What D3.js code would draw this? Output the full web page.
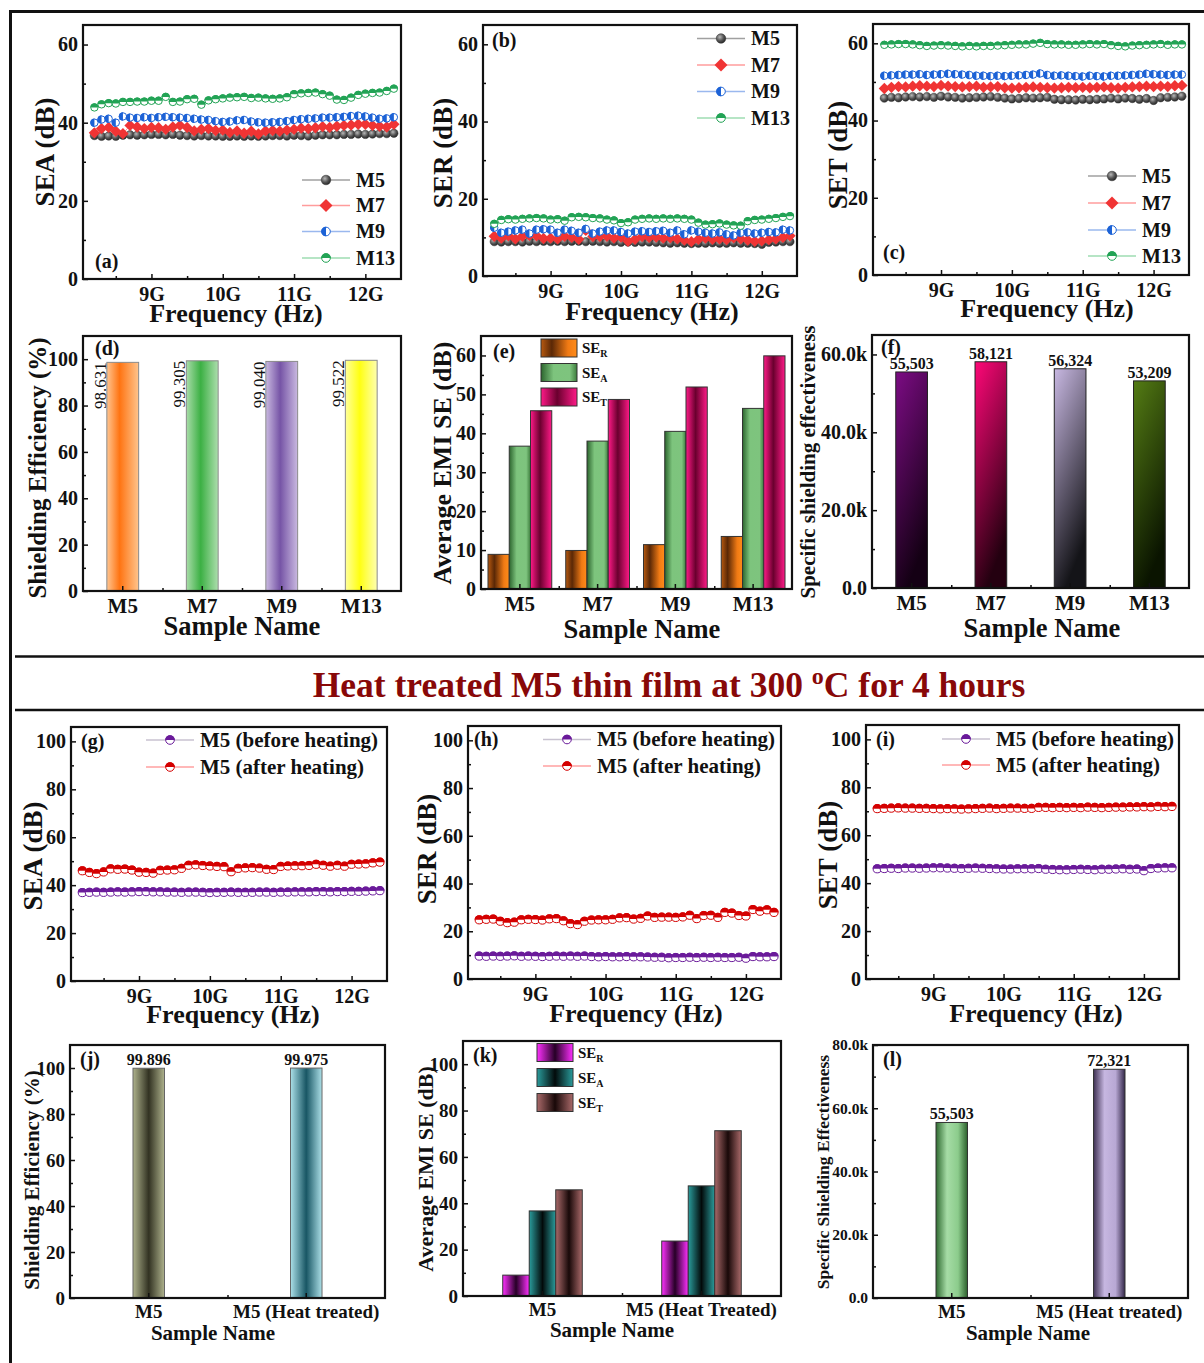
<!DOCTYPE html>
<html>
<head>
<meta charset="utf-8">
<script src="https://cdn.jsdelivr.net/npm/d3@7/dist/d3.min.js"></script>
<style>
  body { margin: 0; background: #fff; }
  svg { display: block; font-family: "Liberation Serif", "Times New Roman", serif; font-weight: bold; }
</style>
</head>
<body>
<svg id="fig" width="1204" height="1363"></svg>
<script>
// sweep frequencies (GHz)
const freqGHz = [8.2,8.3,8.4,8.5,8.6,8.7,8.8,8.9, 9.0,9.1,9.2,9.3,9.4,9.5,9.6,9.7,9.8,9.9,
  10.0,10.1,10.2,10.3,10.4,10.5,10.6,10.7,10.8,10.9, 11.0,11.1,11.2,11.3,11.4,11.5,11.6,11.7,11.8,11.9,
  12.0,12.1,12.2,12.3,12.4]
const freqTicks = [9, 10, 11, 12]
const freqTickLabels = ['9G', '10G', '11G', '12G']
const freqMinor = [8.5, 9.5, 10.5, 11.5]

// (a) SEA
const seaM5 = [36.7,36.5,36.6,36.5,36.8,36.9,36.8,36.9,37.0,37.0, 36.9,37.0,36.8,36.7,36.6,36.7,36.6,36.6,36.5,36.5,
  36.6,36.5,36.6,36.5,36.6,36.7,36.7,36.6,36.8,36.7, 36.6,36.8,36.9,36.9,36.9,37.0,37.0,37.1,37.0,37.1, 37.2,37.2,37.3]
const seaM7 = [37.4,38.5,38.8,37.8,37.2,39.3,38.9,38.5,38.8,38.7, 38.3,38.9,39.3,38.8,37.9,38.3,38.5,38.0,38.1,37.5,
  37.9,37.3,37.8,37.1,37.9,38.0,37.8,38.1,38.3,38.6, 38.5,38.7,39.0,38.8,39.1,39.3,39.4,39.6,39.6,39.3, 39.1,38.9,39.6]
const seaM9 = [40.0,40.8,41.0,40.0,41.6,41.3,41.2,41.4,41.2,41.4, 41.5,41.4,41.3,41.2,41.0,40.8,40.7,40.4,40.2,40.3,
  40.6,40.7,40.3,40.1,40.0,40.1,40.2,40.4,40.7,40.9, 41.0,41.1,41.3,41.3,41.4,41.5,41.7,41.8,41.6,41.3, 41.0,41.1,41.4]
const seaM13 = [43.9,44.7,45.0,44.9,45.3,45.3,45.4,45.4,45.6,45.6, 46.6,45.3,45.4,46.0,46.1,44.6,45.7,46.0,46.2,46.4,
  46.5,46.6,46.3,46.4,46.2,46.1,46.2,46.5,47.3,47.5, 47.6,47.7,47.3,46.9,45.9,45.8,46.4,47.1,47.4,47.6, 47.7,48.1,48.7]

// (b) SER
const serM5 = [8.9,8.8,8.9,8.9,8.8,9.0,8.9,9.0,8.9,9.0, 8.9,9.0,9.0,8.9,9.0,8.9,8.8,8.9,8.7,8.8,
  8.7,8.8,8.8,8.7,8.6,8.5,8.6,8.5,8.4,8.5, 8.5,8.6,8.5,8.5,8.6,8.5,8.5,8.4,8.2,8.7, 8.8,8.9,8.9]
const serM7 = [10.3,9.8,10.4,9.6,10.3,10.5,10.4,9.7,9.8,9.6, 10.3,10.0,9.5,11.8,10.2,10.2,10.3,9.8,10.1,9.0,
  9.5,10.2,10.0,10.1,9.8,9.9,9.6,9.3,8.9,9.5, 9.8,9.5,9.6,9.4,9.9,9.6,9.3,9.0,9.1,9.4, 9.6,10.0,10.4]
const serM9 = [12.5,11.2,11.5,11.8,12.0,11.0,12.0,12.1,12.0,11.2, 12.0,11.7,11.2,12.2,11.0,11.5,11.8,11.8,11.4,11.0,
  11.5,11.6,11.4,11.6,11.7,11.2,11.8,10.8,11.8,11.5, 11.2,11.0,11.3,10.8,10.5,11.2,11.3,11.0,11.2,11.4, 11.3,12.0,11.8]
const serM13 = [13.5,14.5,14.7,14.6,14.8,14.9,15.0,14.9,14.6,14.7, 14.3,15.2,15.3,15.2,15.0,14.9,14.6,14.4,13.7,13.9,
  14.6,14.8,14.9,14.8,14.9,14.8,14.9,14.8,14.6,13.8, 13.3,13.4,13.6,13.3,13.1,13.0,14.2,14.5,14.6,14.8, 15.0,15.3,15.5]

// (c) SET
const setM5 = [45.8,46.0,45.9,46.1,46.2,46.1,46.2,46.0,46.3,46.1, 46.0,45.8,45.9,46.0,46.1,46.2,46.0,45.8,45.6,45.7,
  45.9,45.8,45.9,46.0,45.5,45.4,45.4,45.3,45.5,45.4, 45.5,45.6,45.8,45.6,45.8,45.7,45.5,45.7,45.2,45.9, 46.0,46.1,46.3]
const setM7 = [48.3,48.6,48.8,48.7,48.9,49.0,48.9,48.8,49.1,48.9, 48.8,48.7,48.8,48.9,48.6,48.7,48.8,48.5,48.4,48.5,
  48.6,48.7,48.6,48.5,48.4,48.5,48.6,48.5,48.6,48.5, 48.6,48.7,48.5,48.4,48.6,48.7,48.8,48.9,48.8,48.9, 48.8,49.0,49.1]
const setM9 = [51.6,51.7,51.8,51.9,51.9,52.0,51.8,51.9,52.0,52.1, 52.0,51.9,51.8,51.6,51.6,51.5,51.6,51.5,51.6,51.7,
  51.8,51.9,52.2,51.8,51.6,51.7,51.6,51.5,51.4,51.6, 51.5,51.4,51.6,51.6,51.7,51.8,51.9,52.1,52.0,51.9, 51.8,51.9,51.9]
const setM13 = [59.6,59.7,59.8,59.8,59.7,59.5,59.3,59.4,59.5,59.4, 59.3,59.2,59.3,59.2,59.3,59.3,59.4,59.5,59.6,59.7,
  59.7,59.9,60.1,59.8,59.7,59.7,59.6,59.6,59.7,59.8, 59.7,59.8,59.5,59.3,59.2,59.4,59.5,59.6,59.7,59.8, 59.6,59.7,59.7]

// (g)-(i) M5 before / after heating
const seaBefore = [36.9,37.0,37.1,37.0,37.1,37.2,37.1,37.2,37.3,37.3, 37.2,37.2,37.1,37.1,37.0,37.1,37.1,37.0,36.9,37.0,
  37.0,37.1,37.0,37.0,37.0,37.1,37.1,37.0,37.1,37.1, 37.2,37.2,37.2,37.3,37.3,37.2,37.3,37.3,37.4,37.4, 37.5,37.6,37.7]
const seaAfter = [46.0,45.3,44.8,45.5,46.8,46.6,46.7,46.3,45.4,45.3, 45.0,46.2,46.3,46.4,47.0,48.3,48.5,48.2,48.0,47.8,
  47.7,45.6,47.0,47.2,47.3,47.1,46.6,46.5,47.8,48.0, 48.1,48.1,48.2,48.7,48.3,47.9,48.3,47.9,48.7,48.8, 48.9,49.3,49.6]
const serBefore = [9.6,9.5,9.6,9.5,9.6,9.7,9.5,9.6,9.5,9.4, 9.5,9.6,9.5,9.6,9.5,9.6,9.4,9.3,9.4,9.3,
  9.3,9.4,9.3,9.3,9.2,9.1,9.1,8.9,9.0,9.0, 9.1,9.0,9.1,9.0,9.1,9.0,9.0,9.1,8.7,9.4, 9.3,9.3,9.4]
const serAfter = [24.8,25.0,25.1,24.2,23.6,23.8,24.8,25.0,24.9,24.7, 25.2,25.3,24.4,23.2,22.8,24.2,24.7,24.8,24.8,25.0,
  25.6,25.7,25.1,25.4,26.4,25.8,25.9,25.9,25.8,26.0, 26.7,25.3,26.6,26.7,25.8,27.9,27.6,26.6,26.4,29.1, 28.4,29.0,27.9]
const setBefore = [46.0,46.1,46.2,46.1,46.3,46.3,46.2,46.3,46.4,46.4, 46.3,46.2,46.1,46.2,46.3,46.2,46.1,46.0,45.9,45.9,
  46.0,46.0,46.0,46.1,45.8,45.7,45.6,45.6,45.7,45.8, 45.7,45.6,45.8,45.8,45.9,46.0,45.8,45.9,45.2,46.1, 46.3,46.4,46.4]
const setAfter = [71.1,71.2,71.3,71.4,71.3,71.3,71.2,71.2,71.1,71.0, 71.1,71.0,70.9,71.0,71.1,71.2,71.3,71.1,71.2,71.3,
  71.3,71.2,71.2,71.6,71.6,71.5,71.6,71.5,71.6,71.5, 71.7,71.6,71.5,71.6,71.7,71.7,71.8,71.8,71.9,71.8, 72.0,71.9,72.0]

// bar panels
const samples = ['M5', 'M7', 'M9', 'M13']
const shieldEff = [98.631, 99.305, 99.040, 99.522]
const avgSER = [8.9, 9.9, 11.4, 13.5]
const avgSEA = [36.7, 38.0, 40.5, 46.4]
const avgSET = [45.8, 48.7, 51.9, 59.9]
const specSE = [55503, 58121, 56324, 53209]

const heatNames = ['M5', 'M5 (Heat treated)']
const heatNamesK = ['M5', 'M5 (Heat Treated)']
const heatEff = [99.896, 99.975]
const heatSER = [9.0, 23.7]
const heatSEA = [36.7, 47.5]
const heatSET = [45.8, 71.3]
const heatSpec = [55503, 72321]

const svg = d3.select('#fig')
const defs = svg.append('defs')
const INK = '#111'

function grad(id, stops, dir) {
  const lg = defs.append('linearGradient').attr('id', id)
    .attr('x1', 0).attr('y1', 0)
    .attr('x2', dir === 'v' ? 0.35 : 1).attr('y2', dir === 'v' ? 1 : 0)
  stops.forEach(s => lg.append('stop').attr('offset', s[0]).attr('stop-color', s[1]))
}
const ball = defs.append('radialGradient').attr('id', 'ball').attr('cx', '38%').attr('cy', '35%').attr('r', '70%')
ball.append('stop').attr('offset', 0).attr('stop-color', '#b8b8b8')
ball.append('stop').attr('offset', 0.55).attr('stop-color', '#555')
ball.append('stop').attr('offset', 1).attr('stop-color', '#222')

grad('dM5', [[0, '#ffc590'], [0.4, '#ff7412'], [1, '#ffc48c']])
grad('dM7', [[0, '#a9dca9'], [0.45, '#3cb044'], [1, '#addead']])
grad('dM9', [[0, '#c9b9e0'], [0.45, '#7654a6'], [1, '#c9b9e0']])
grad('dM13', [[0, '#ffff9c'], [0.45, '#ffff12'], [1, '#ffffb0']])
grad('eR', [[0, '#b85a10'], [0.3, '#5a2806'], [0.75, '#f07a14'], [1, '#ff8c1a']])
grad('eA', [[0, '#2c652e'], [0.35, '#7dc47d'], [0.8, '#7ec47e'], [1, '#3c7c3c']])
grad('eT', [[0, '#ff1a88'], [0.45, '#6a002e'], [1, '#ff1a88']])
grad('fM5', [[0, '#7c0c84'], [1, '#140014']], 'v')
grad('fM7', [[0, '#ff0878'], [1, '#240010']], 'v')
grad('fM9', [[0, '#c8b8e2'], [1, '#141418']], 'v')
grad('fM13', [[0, '#547c14'], [1, '#0a1400']], 'v')
grad('jM5', [[0, '#aeb28c'], [0.5, '#323222'], [1, '#aeb28c']])
grad('jH', [[0, '#ace0e8'], [0.5, '#185664'], [1, '#ace0e8']])
grad('kR', [[0, '#ff30ff'], [0.5, '#260026'], [1, '#ff30ff']])
grad('kA', [[0, '#2a9c9c'], [0.5, '#020a0a'], [1, '#2a9c9c']])
grad('kT', [[0, '#aa6a6a'], [0.5, '#180808'], [1, '#aa6a6a']])
grad('lM5', [[0, '#2e6a30'], [0.35, '#a6dca6'], [0.7, '#8ccc8c'], [1, '#2c602c']])
grad('lH', [[0, '#3e3052'], [0.35, '#c6b6e0'], [0.7, '#b8a8d4'], [1, '#34284a']])

function text(g, x, y, s, size, anchor, weight) {
  return g.append('text').attr('x', x).attr('y', y).attr('font-size', size)
    .attr('text-anchor', anchor || 'start').attr('font-weight', weight || 'bold').attr('fill', INK).text(s)
}

function yTitle(g, cx, cy, s, size) {
  g.append('text').attr('transform', `translate(${cx},${cy}) rotate(-90)`)
    .attr('text-anchor', 'middle').attr('dy', '0.35em').attr('font-size', size).attr('fill', INK).text(s)
}

function tidy(a) {
  a.attr('font-family', null).attr('font-size', null)
  a.select('.domain').remove()
  a.selectAll('line').attr('stroke', INK).attr('stroke-width', 1.5)
  a.selectAll('text').attr('fill', INK)
  return a
}

function axes(g, b, x, y, o) {
  tidy(g.append('g').attr('transform', `translate(${b.x0},0)`)
    .call(d3.axisLeft(y).tickValues(o.yMinor).tickSize(-3).tickFormat('')))
  tidy(g.append('g').attr('transform', `translate(0,${b.y1})`)
    .call(d3.axisBottom(o.xMinorScale || x).tickValues(o.xMinor).tickSize(-3).tickFormat('')))
  tidy(g.append('g').attr('transform', `translate(${b.x0},0)`)
    .call(d3.axisLeft(y).tickValues(o.yTicks).tickSize(-5).tickPadding(5).tickFormat(o.yFmt || (d => d))))
    .selectAll('text').attr('font-size', o.yFs)
  tidy(g.append('g').attr('transform', `translate(0,${b.y1})`)
    .call(d3.axisBottom(x).tickValues(o.xTicks).tickSize(-5).tickPadding(o.xPad).tickFormat(o.xFmt || (d => d))))
    .selectAll('text').attr('font-size', o.xFs)
  g.append('rect').attr('x', b.x0).attr('y', b.y0).attr('width', b.x1 - b.x0).attr('height', b.y1 - b.y0)
    .attr('fill', 'none').attr('stroke', INK).attr('stroke-width', 2.2)
}

function marker(g, cx, cy, s, r) {
  const m = g.append('g').attr('transform', `translate(${cx},${cy})`)
  if (s.style === 'ball') {
    m.append('circle').attr('r', r).attr('fill', 'url(#ball)').attr('stroke', '#333').attr('stroke-width', 0.5)
  } else if (s.style === 'diamond') {
    const d = r * 1.35
    m.append('path').attr('d', `M0,${-d}L${d},0L0,${d}L${-d},0Z`).attr('fill', s.color)
  } else {
    m.append('circle').attr('r', r - 0.5).attr('fill', '#fff').attr('stroke', s.color).attr('stroke-width', 1)
    const half = s.style === 'halfLeft'
      ? `M0,${-r}A${r},${r} 0 0 0 0,${r}Z`
      : `M${-r},0A${r},${r} 0 0 1 ${r},0Z`
    m.append('path').attr('d', half).attr('fill', s.color)
  }
}

const stM5 = { name: 'M5', style: 'ball', color: '#444', line: '#a0a0a0' }
const stM7 = { name: 'M7', style: 'diamond', color: '#f03434', line: '#ff9c9c' }
const stM9 = { name: 'M9', style: 'halfLeft', color: '#1c62d6', line: '#9ab8ee' }
const stM13 = { name: 'M13', style: 'halfTop', color: '#22a355', line: '#9edcb2' }
const stBefore = { name: 'M5 (before heating)', style: 'halfTop', color: '#6a1a9a', line: '#c8c2d0' }
const stAfter = { name: 'M5 (after heating)', style: 'halfTop', color: '#d40000', line: '#ffa0a0' }

function sweepPanel(o) {
  const g = svg.append('g'), b = o.box
  const x = d3.scaleLinear().domain([8.04, 12.5]).range([b.x0, b.x1])
  const y = d3.scaleLinear().domain([0, o.yMax]).range([b.y1, b.y0])
  o.series.forEach(([st, vals]) => {
    const pts = freqGHz.map((f, i) => [f, vals[i]])
    g.append('path').datum(pts).attr('fill', 'none').attr('stroke', st.line).attr('stroke-width', 1)
      .attr('d', d3.line().x(d => x(d[0])).y(d => y(d[1])))
    pts.forEach(p => marker(g, x(p[0]), y(p[1]), st, o.r))
  })
  axes(g, b, x, y, {
    yTicks: o.yTicks, yMinor: o.yMinor, yFs: 20,
    xTicks: freqTicks, xMinor: freqMinor, xFs: 20, xPad: 8,
    xFmt: d => freqTickLabels[freqTicks.indexOf(d)]
  })
  o.series.forEach(([st], i) => {
    const ly = o.legend.ys[i], lx = o.legend.x
    g.append('line').attr('x1', lx).attr('x2', lx + 48).attr('y1', ly).attr('y2', ly)
      .attr('stroke', st.line).attr('stroke-width', 1.3)
    marker(g, lx + 24, ly, st, 4.8)
    text(g, lx + 54, ly + o.legend.fs * 0.33, st.name, o.legend.fs)
  })
  text(g, o.tag[0], o.tag[1], o.tag[2], 20)
  yTitle(g, o.yTitle[0], o.yTitle[1], o.yTitle[2], 27)
  text(g, o.xTitle[0], o.xTitle[1] + 2, 'Frequency (Hz)', 26, 'middle')
}

function barPanel(o) {
  const g = svg.append('g'), b = o.box
  const x = d3.scaleBand().domain(o.cats).range([b.x0, b.x1])
  const y = d3.scaleLinear().domain([0, o.yMax]).range([b.y1, b.y0])
  const groups = o.groups
  const gw = x.bandwidth() * o.groupFrac, bw = gw / groups.length
  groups.forEach((grp, k) => {
    o.cats.forEach((c, i) => {
      const bx = x(c) + (x.bandwidth() - gw) / 2 + k * bw
      g.append('rect').attr('x', bx).attr('y', y(grp.values[i])).attr('width', bw)
        .attr('height', y(0) - y(grp.values[i])).attr('fill', `url(#${grp.fills[i]})`)
        .attr('stroke', o.stroke).attr('stroke-width', 1)
      if (o.valueLabel === 'side') {
        g.append('text').attr('transform', `translate(${bx - 1},${y(grp.values[i])}) rotate(-90)`)
          .attr('text-anchor', 'end').attr('font-size', 17).attr('font-weight', 'normal').attr('fill', INK)
          .text(o.fmt(grp.values[i]))
      } else if (o.valueLabel === 'top') {
        text(g, bx + bw / 2, y(grp.values[i]) - 3, o.fmt(grp.values[i]), o.valueFs, 'middle')
      }
    })
  })
  const mx = d3.scaleLinear().domain([0, o.cats.length]).range([b.x0, b.x1])
  axes(g, b, x, y, {
    yTicks: o.yTicks, yMinor: o.yMinor, yFs: o.yFs, yFmt: o.yFmt,
    xTicks: o.cats, xMinor: d3.range(1, o.cats.length), xMinorScale: mx, xFs: o.xFs, xPad: o.xPad,
    xFmt: o.xFmt
  })
  if (o.legend) {
    groups.forEach((grp, k) => {
      const ly = o.legend.y + k * o.legend.step
      g.append('rect').attr('x', o.legend.x).attr('y', ly).attr('width', 36).attr('height', 18)
        .attr('fill', `url(#${grp.fills[0]})`).attr('stroke', o.stroke).attr('stroke-width', 1)
      const t = text(g, o.legend.x + 41, ly + 14, 'SE', 15)
      t.append('tspan').attr('dy', 4).attr('font-size', 10).text(grp.sub)
    })
  }
  text(g, o.tag[0], o.tag[1], o.tag[2], 20)
  yTitle(g, o.yTitle[0], o.yTitle[1], o.yTitle[2], o.yTitle[3])
  text(g, o.xTitle[0], o.xTitle[1], 'Sample Name', o.xTitle[2], 'middle')
}

// outer frame and separators
const frame = svg.append('g').attr('stroke', INK)
frame.append('line').attr('x1', 9).attr('x2', 1204).attr('y1', 11.5).attr('y2', 11.5).attr('stroke-width', 3)
frame.append('line').attr('x1', 10.5).attr('x2', 10.5).attr('y1', 10).attr('y2', 1363).attr('stroke-width', 3)
frame.append('line').attr('x1', 15).attr('x2', 1204).attr('y1', 656.5).attr('y2', 656.5).attr('stroke-width', 2.5)
frame.append('line').attr('x1', 15).attr('x2', 1204).attr('y1', 710).attr('y2', 710).attr('stroke-width', 2.5)

const title = svg.append('text').attr('x', 669).attr('y', 697).attr('text-anchor', 'middle')
  .attr('font-size', 35.5).attr('fill', '#880808')
title.append('tspan').text('Heat treated M5 thin film at 300 ')
title.append('tspan').attr('font-size', 24).attr('dy', -13).text('o')
title.append('tspan').attr('dy', 13).text('C for 4 hours')

const tick20 = [0, 20, 40, 60], minor20 = [10, 30, 50]
const tick100 = [0, 20, 40, 60, 80, 100], minor100 = [10, 30, 50, 70, 90]

sweepPanel({ box: { x0: 83, y0: 25, x1: 401, y1: 279 }, yMax: 65, yTicks: tick20, yMinor: minor20, r: 4.2,
  series: [[stM5, seaM5], [stM7, seaM7], [stM9, seaM9], [stM13, seaM13]],
  legend: { x: 302, ys: [180, 205.5, 231.5, 258], fs: 20 },
  tag: [95, 268, '(a)'], yTitle: [45, 152, 'SEA (dB)'], xTitle: [236, 320] })
sweepPanel({ box: { x0: 483, y0: 25, x1: 797, y1: 276 }, yMax: 65, yTicks: tick20, yMinor: minor20, r: 4.2,
  series: [[stM5, serM5], [stM7, serM7], [stM9, serM9], [stM13, serM13]],
  legend: { x: 697, ys: [38.5, 65, 91.5, 118], fs: 20 },
  tag: [492, 47, '(b)'], yTitle: [443, 153, 'SER (dB)'], xTitle: [652, 318] })
sweepPanel({ box: { x0: 873, y0: 24, x1: 1189, y1: 275 }, yMax: 65, yTicks: tick20, yMinor: minor20, r: 4.2,
  series: [[stM5, setM5], [stM7, setM7], [stM9, setM9], [stM13, setM13]],
  legend: { x: 1088, ys: [176, 203, 230, 256], fs: 20 },
  tag: [883, 259, '(c)'], yTitle: [838, 155, 'SET (dB)'], xTitle: [1047, 315] })

barPanel({ box: { x0: 83, y0: 336, x1: 401, y1: 591 }, cats: samples, yMax: 110,
  yTicks: tick100, yMinor: minor100, yFs: 20, xFs: 21, xPad: 7, groupFrac: 0.4, stroke: '#8a8a8a',
  groups: [{ values: shieldEff, fills: ['dM5', 'dM7', 'dM9', 'dM13'] }],
  valueLabel: 'side', fmt: d3.format('.3f'),
  tag: [95, 355, '(d)'], yTitle: [37, 468, 'Shielding Efficiency (%)', 25], xTitle: [242, 635, 26.5] })
barPanel({ box: { x0: 481, y0: 336, x1: 792, y1: 589 }, cats: samples, yMax: 65,
  yTicks: [0, 10, 20, 30, 40, 50, 60], yMinor: [5, 15, 25, 35, 45, 55], yFs: 20, xFs: 21, xPad: 7,
  groupFrac: 0.82, stroke: '#333',
  groups: [{ values: avgSER, fills: ['eR', 'eR', 'eR', 'eR'], sub: 'R' },
           { values: avgSEA, fills: ['eA', 'eA', 'eA', 'eA'], sub: 'A' },
           { values: avgSET, fills: ['eT', 'eT', 'eT', 'eT'], sub: 'T' }],
  legend: { x: 541, y: 339, step: 24.5 },
  tag: [493, 358, '(e)'], yTitle: [442, 463, 'Average EMI SE (dB)', 26], xTitle: [642, 638, 26.5] })
barPanel({ box: { x0: 872, y0: 335, x1: 1189, y1: 588 }, cats: samples, yMax: 65000,
  yTicks: [0, 20000, 40000, 60000], yMinor: [10000, 30000, 50000], yFs: 20,
  yFmt: d => d === 0 ? '0.0' : (d / 1000).toFixed(1) + 'k', xFs: 21, xPad: 7, groupFrac: 0.4, stroke: '#222',
  groups: [{ values: specSE, fills: ['fM5', 'fM7', 'fM9', 'fM13'] }],
  valueLabel: 'top', valueFs: 16, fmt: d3.format(','),
  tag: [881, 354, '(f)'], yTitle: [808, 462, 'Specific shielding effectiveness', 21], xTitle: [1042, 637, 26.5] })

sweepPanel({ box: { x0: 71, y0: 727, x1: 387, y1: 981 }, yMax: 106, yTicks: tick100, yMinor: minor100, r: 4.6,
  series: [[stBefore, seaBefore], [stAfter, seaAfter]],
  legend: { x: 146, ys: [740, 767], fs: 21 },
  tag: [81, 748, '(g)'], yTitle: [33, 856, 'SEA (dB)'], xTitle: [233, 1021] })
sweepPanel({ box: { x0: 468, y0: 726, x1: 781, y1: 979 }, yMax: 106, yTicks: tick100, yMinor: minor100, r: 4.6,
  series: [[stBefore, serBefore], [stAfter, serAfter]],
  legend: { x: 543, ys: [739.5, 766], fs: 21 },
  tag: [474, 746, '(h)'], yTitle: [427, 849, 'SER (dB)'], xTitle: [636, 1020] })
sweepPanel({ box: { x0: 866, y0: 725, x1: 1179, y1: 979 }, yMax: 106, yTicks: tick100, yMinor: minor100, r: 4.6,
  series: [[stBefore, setBefore], [stAfter, setAfter]],
  legend: { x: 942, ys: [739, 765], fs: 21 },
  tag: [876, 746, '(i)'], yTitle: [828, 855, 'SET (dB)'], xTitle: [1036, 1020] })

barPanel({ box: { x0: 70, y0: 1045, x1: 385, y1: 1298 }, cats: heatNames, yMax: 110,
  yTicks: tick100, yMinor: minor100, yFs: 19, xFs: 19, xPad: 7, groupFrac: 0.2, stroke: '#666',
  groups: [{ values: heatEff, fills: ['jM5', 'jH'] }],
  valueLabel: 'top', valueFs: 16, fmt: d3.format('.3f'),
  tag: [80, 1066, '(j)'], yTitle: [32, 1180, 'Shielding Efficiency (%)', 21], xTitle: [213, 1340, 21] })
barPanel({ box: { x0: 463, y0: 1041, x1: 781, y1: 1296 }, cats: heatNamesK, yMax: 110,
  yTicks: tick100, yMinor: minor100, yFs: 19, xFs: 19, xPad: 7, groupFrac: 0.5, stroke: '#333',
  groups: [{ values: heatSER, fills: ['kR', 'kR'], sub: 'R' },
           { values: heatSEA, fills: ['kA', 'kA'], sub: 'A' },
           { values: heatSET, fills: ['kT', 'kT'], sub: 'T' }],
  legend: { x: 537, y: 1043.5, step: 25 },
  tag: [473, 1062, '(k)'], yTitle: [425, 1169, 'Average EMI SE (dB)', 22], xTitle: [612, 1337, 21] })
barPanel({ box: { x0: 873, y0: 1045, x1: 1188, y1: 1298 }, cats: heatNames, yMax: 80000,
  yTicks: [0, 20000, 40000, 60000, 80000], yMinor: [10000, 30000, 50000, 70000], yFs: 15.5,
  yFmt: d => d === 0 ? '0.0' : (d / 1000).toFixed(1) + 'k', xFs: 19, xPad: 7, groupFrac: 0.2, stroke: '#333',
  groups: [{ values: heatSpec, fills: ['lM5', 'lH'] }],
  valueLabel: 'top', valueFs: 16, fmt: d3.format(','),
  tag: [883, 1066, '(l)'], yTitle: [823, 1172, 'Specific Shielding Effectiveness', 17.5], xTitle: [1028, 1340, 21] })
</script>
</body>
</html>
